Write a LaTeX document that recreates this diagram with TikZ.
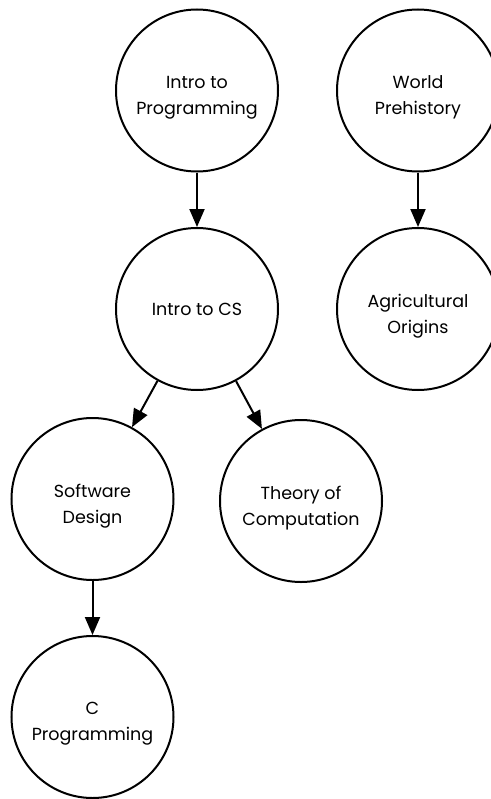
\documentclass[tikz,border=0pt]{standalone}
\usepackage{fontspec}
\setmainfont{Poppins}
\usetikzlibrary{arrows.meta}
\begin{document}
\begin{tikzpicture}[x=1bp,y=-1bp,
  course/.style={circle,draw,line width=2bp,minimum size=162bp,inner sep=0pt},
  txt/.style={align=center,inner sep=0pt,font=\fontsize{17.5bp}{26bp}\selectfont},
  two/.style={txt,yshift=-7bp},
  prereq/.style={line width=2bp,-{Triangle[length=18bp,width=15bp]}}]
\useasboundingbox (0,0) rectangle (491,799);
\node[course] (ip) at (197,90.5) {};
\node[course] (wp) at (418,90.5) {};
\node[course] (ics) at (197,309) {};
\node[course] (ao) at (418,309) {};
\node[course] (sd) at (92.5,499) {};
\node[course] (tc) at (301,501) {};
\node[course] (cp) at (92.5,717) {};
\node[two] (ipt) at (ip.center) {Intro to\\Programming};
\node[two] (wpt) at (wp.center) {World\\Prehistory};
\node[txt] (icst) at (ics.center) {Intro to CS};
\node[two] (aot) at (ao.center) {Agricultural\\Origins};
\node[two] (sdt) at (sd.center) {Software\\Design};
\node[two] (tct) at (tc.center) {Theory of\\Computation};
\node[two] (cpt) at (cp.center) {C\\Programming};
\draw[prereq] (ip) -- (ics);
\draw[prereq] (wp) -- (ao);
\draw[prereq] (ics) -- (sd);
\draw[prereq] (ics) -- (tc);
\draw[prereq] (sd) -- (cp);
\end{tikzpicture}
\end{document}
